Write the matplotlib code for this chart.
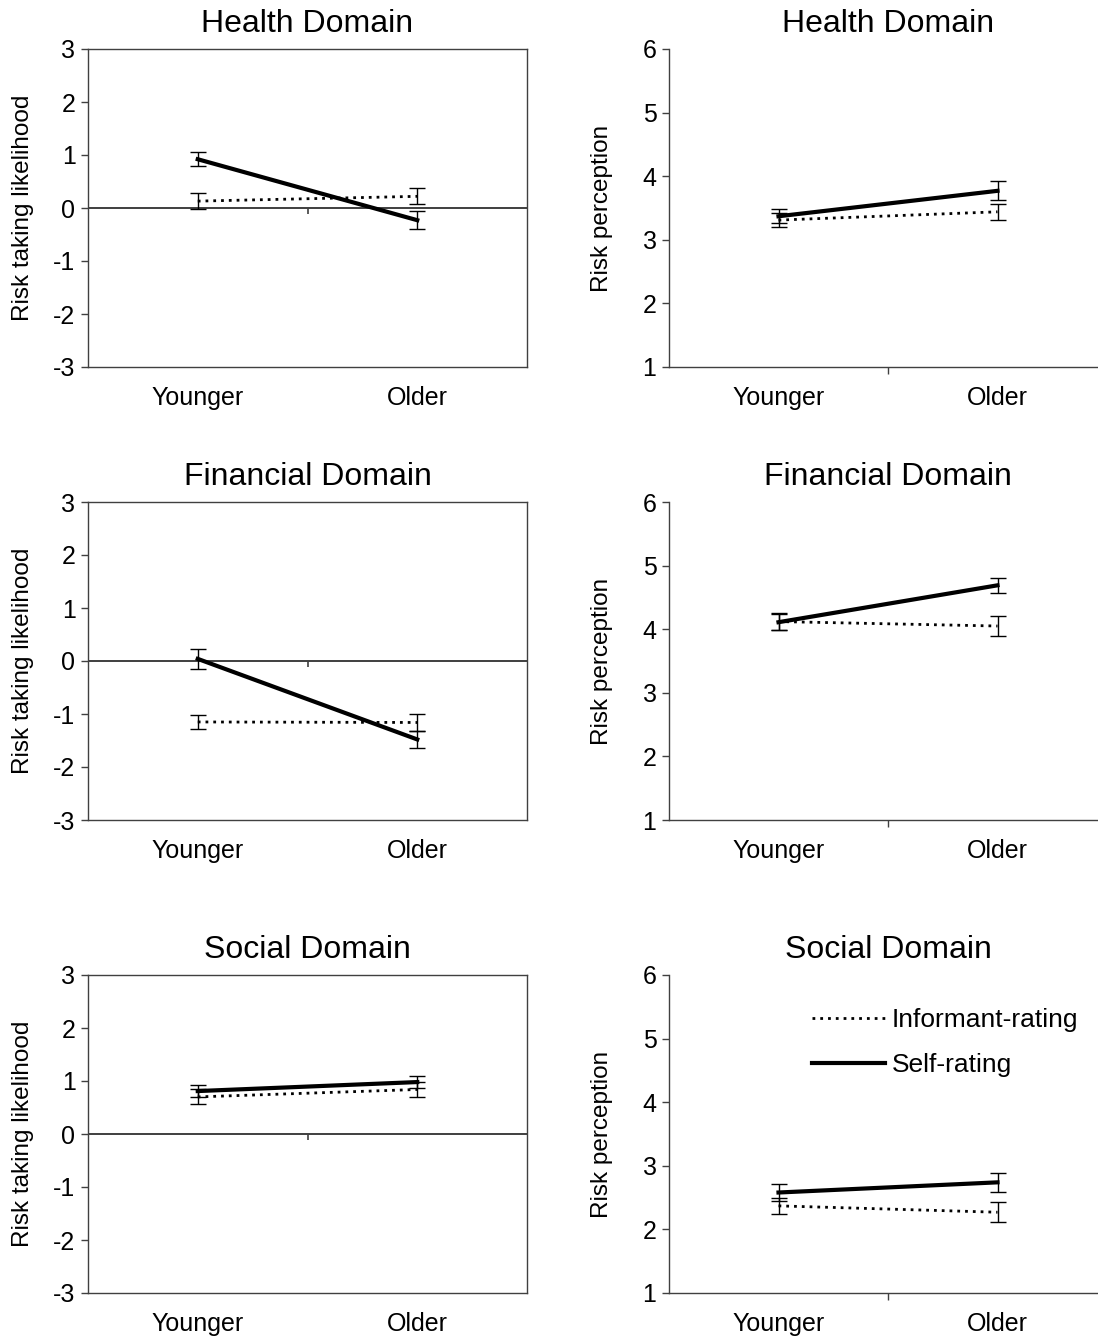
import matplotlib
matplotlib.use("Agg")
import matplotlib.pyplot as plt
from matplotlib.lines import Line2D

plt.rcParams['font.family'] = ['Liberation Sans', 'DejaVu Sans']
plt.rcParams['axes.unicode_minus'] = False

# group positions and panel titles
categories = ['Younger', 'Older']
domains = ['Health Domain', 'Financial Domain', 'Social Domain']

# left column: risk taking likelihood (mean, SE) per domain, [younger, older]
rt_self = [[0.92, -0.23], [0.04, -1.48], [0.81, 0.98]]
rt_self_se = [[0.13, 0.17], [0.19, 0.16], [0.12, 0.12]]
rt_inf = [[0.13, 0.22], [-1.15, -1.16], [0.70, 0.84]]
rt_inf_se = [[0.15, 0.15], [0.14, 0.16], [0.14, 0.15]]

# right column: risk perception
rp_self = [[3.37, 3.77], [4.11, 4.69], [2.58, 2.74]]
rp_self_se = [[0.11, 0.15], [0.13, 0.12], [0.13, 0.15]]
rp_inf = [[3.31, 3.44], [4.12, 4.05], [2.37, 2.27]]
rp_inf_se = [[0.11, 0.13], [0.13, 0.15], [0.13, 0.16]]

W, H = 1098, 1336
fig = plt.figure(figsize=(W / 100, H / 100), dpi=100)

row_tops = [49, 502, 975]
row_h = 318
spine_col = '#404040'
x = [0.5, 1.5]
fs = 18


def draw_series(ax, inf, inf_se, self_, self_se):
    ax.errorbar(x, inf, yerr=inf_se, color='black', lw=2.0, ls=(0, (1, 1.8)),
                ecolor='black', elinewidth=1, capsize=6, capthick=1, zorder=3)
    ax.errorbar(x, self_, yerr=self_se, color='black', lw=3.0, ls='-',
                ecolor='black', elinewidth=1, capsize=6, capthick=1, zorder=4)


for r in range(3):
    top = row_tops[r]
    y0 = 1 - (top + row_h) / H

    # left: risk taking likelihood
    ax = fig.add_axes([88 / W, y0, 439 / W, row_h / H])
    ax.set_xlim(0, 2)
    ax.set_ylim(-3, 3)
    ax.axhline(0, color='#303030', lw=1.3, zorder=1)
    ax.vlines(1, -0.12, 0, color=spine_col, lw=1.2)
    draw_series(ax, rt_inf[r], rt_inf_se[r], rt_self[r], rt_self_se[r])
    ax.set_xticks(x)
    ax.set_xticklabels(categories)
    ax.set_yticks(range(-3, 4))
    for s in ax.spines.values():
        s.set_color(spine_col)
        s.set_linewidth(1)
    ax.tick_params(axis='x', length=0, pad=14, labelsize=fs)
    ax.tick_params(axis='y', length=5, width=1, color=spine_col, pad=4, labelsize=fs)
    ax.set_ylabel('Risk taking likelihood', fontsize=17.5)
    ax.yaxis.set_label_coords(-0.123, 0.5)
    ax.set_title(domains[r], fontsize=23, pad=12)

    # right: risk perception
    ax = fig.add_axes([669 / W, y0, 438 / W, row_h / H])
    ax.set_xlim(0, 2)
    ax.set_ylim(1, 6)
    draw_series(ax, rp_inf[r], rp_inf_se[r], rp_self[r], rp_self_se[r])
    ax.set_xticks(x)
    ax.set_xticklabels(categories)
    ax.set_xticks([1], minor=True)
    ax.set_yticks(range(1, 7))
    ax.spines['top'].set_visible(False)
    ax.spines['right'].set_visible(False)
    for s in ['left', 'bottom']:
        ax.spines[s].set_color(spine_col)
        ax.spines[s].set_linewidth(1)
    ax.tick_params(axis='x', which='major', length=0, pad=14, labelsize=fs)
    ax.tick_params(axis='x', which='minor', length=5, width=1, color=spine_col)
    ax.tick_params(axis='y', length=5, width=1, color=spine_col, pad=4, labelsize=fs)
    ax.set_ylabel('Risk perception', fontsize=17.5)
    ax.yaxis.set_label_coords(-0.128, 0.5)
    ax.set_title(domains[r], fontsize=23, pad=12)

    if r == 2:
        handles = [Line2D([], [], color='black', lw=2.0, ls=(0, (1, 1.8))),
                   Line2D([], [], color='black', lw=3.0)]
        ax.legend(handles, ['Informant-rating', 'Self-rating'], loc='upper left',
                  bbox_to_anchor=(0.326, 0.895), frameon=False, fontsize=19,
                  handlelength=2.77, handletextpad=0.27, labelspacing=0.78,
                  borderpad=0, borderaxespad=0)

fig.savefig('out.png', dpi=100)
